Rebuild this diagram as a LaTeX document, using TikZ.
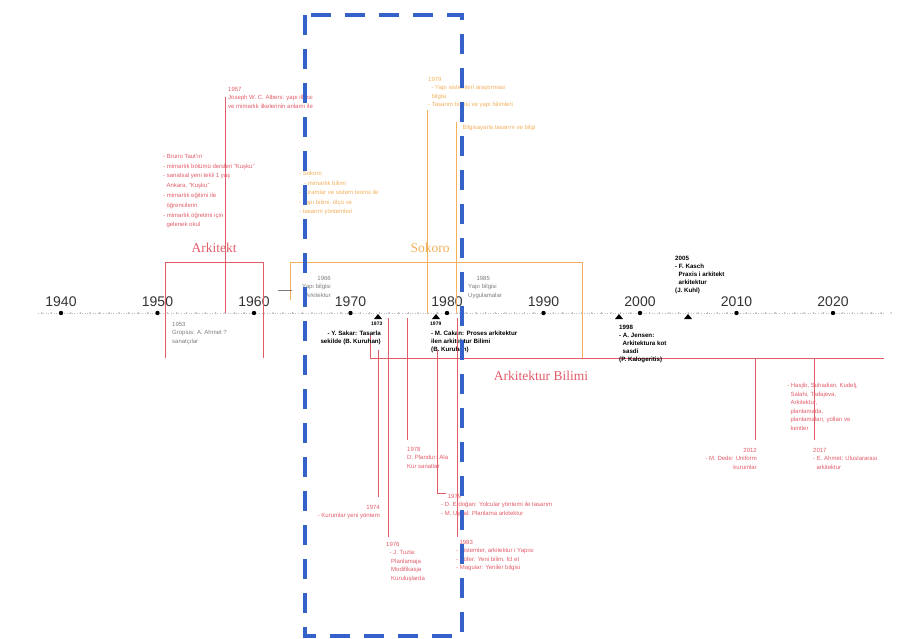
\documentclass[tikz,border=0pt]{standalone}
\usepackage{fontspec}
\setmainfont{Liberation Sans}
\newfontfamily\labelfont{Liberation Serif}
\definecolor{tlred}{RGB}{226,92,104}
\definecolor{tlorange}{RGB}{242,176,92}
\definecolor{tlgray}{RGB}{125,125,125}
\definecolor{tlblue}{RGB}{52,98,200}
\begin{document}
\begin{tikzpicture}[x=1pt,y=-1pt,
  yearlbl/.style={font=\fontsize{14}{14}\selectfont, text=black!80, anchor=base, inner sep=0pt},
  note/.style={font=\fontsize{6}{8.5}\selectfont, align=left, inner sep=0pt, anchor=north west},
  rednote/.style={note, text=tlred},
  orangenote/.style={note, text=tlorange},
  graynote/.style={note, text=tlgray},
  blacknote/.style={note, font=\fontsize{6.2}{8}\selectfont\bfseries},
  grouplbl/.style={font=\labelfont\fontsize{13.5}{13.5}\selectfont, inner sep=0pt},
  redline/.style={tlred, line width=0.8pt},
  orangeline/.style={tlorange, line width=0.8pt}]
\useasboundingbox (0,0) rectangle (899,639);

% Axis
\draw[gray!50, dotted, line width=0.6pt] (38,313) -- (884,313);
\foreach \i in {-2,...,87}
  \fill[gray!60] ({61+\i*9.65},313) circle (0.9pt);
\foreach \d [count=\k from 0] in {1940,1950,...,2020} {
  \fill ({61+\k*96.5},313) circle (2.2pt);
  \node[yearlbl] (y\d) at ({61+\k*96.5},306) {\d};
}

% Groups
\draw[redline] (165,358) -- (165,262) -- (263,262) -- (263,358);
\node[grouplbl, text=tlred] (arkitekt) at (214,248) {Arkitekt};
\draw[orangeline] (290,300) -- (290,262) -- (582,262) -- (582,358);
\node[grouplbl, text=tlorange] (sokoro) at (430,248) {Sokoro};
\draw[redline] (370,335) -- (370,358) -- (884,358);
\node[grouplbl, text=tlred] (bilim) at (541,376) {Arkitektur Bilimi};

% Notes above the axis
\node[rednote] (n1957) at (228,87) {1957\\Joseph W. C. Albers: yapı ilkesi\\ve mimarlık ilkelerinin anlamı ile};
\draw[redline] (225,97) -- (225,313);
\node[rednote, font=\fontsize{6}{9.8}\selectfont] (nlist) at (163,154) {- Bruno Taut'ın\\- mimarlık bölümü dersleri "Kuşku"\\- sanatsal yeni tekli 1 yaş\\\ \ Ankara, "Kuşku"\\- mimarlık eğitimi ile\\\ \ öğrencilerin\\- mimarlık öğretimi için\\\ \ gelenek okul};
\node[orangenote, font=\fontsize{6}{9.5}\selectfont] (nsok) at (299,171) {- Sokoro\\\ \ \ - mimarlık bilimi\\- kuramlar ve sistem teorisi ile\\- yapı bilimi, ölçü ve\\- tasarım yöntemleri};
\node[orangenote] (n1979a) at (428,77) {1979\\\ \ - Yapı sistemleri araştırması\\\ \ bilgisi\\- Tasarım bilgisi ve yapı bilimleri};
\draw[orangeline] (427,110) -- (427,313);
\node[orangenote] (n1979b) at (459,119) {- \\\ \ Bilgisayarla tasarım ve bilgi};
\draw[orangeline] (456,122) -- (456,313);
\node[graynote, align=right, anchor=north east] (n1966) at (331,276) {1966\\Yapı bilgisi\\Arkitektur};
\draw[tlgray, line width=0.5pt] (278,290) -- (292,290);
\node[graynote] (n1985) at (468,276) {\ \ \ \ \ 1985\\Yapı bilgisi\\Uygulamalar};
\node[graynote] (n1953) at (172,322) {1953\\Gropius: A. Ahmet ?\\sanatçılar};

% Milestones
\foreach \x/\nm in {378/m1, 436/m2, 619/m3, 688/m4}
  \fill (\x,314) -- ++(-4,5) -- ++(8,0) -- cycle coordinate (\nm) at (\x,319);
\node[blacknote, font=\fontsize{5}{5}\selectfont\bfseries] (b1973y) at (371,322) {1973};
\node[blacknote, align=right, anchor=north east] (b1973) at (381,331) {- Y. Sakar: Tasarla\\sekilde (B. Kuruhan)};
\node[blacknote, font=\fontsize{5}{5}\selectfont\bfseries] (b1979y) at (430,322) {1979};
\node[blacknote] (b1979) at (431,331) {- M. Cakan: Proses arkitektur\\ilen arkitektur Bilimi\\(B. Kuruhan)};
\node[blacknote] (b1998) at (619,325) {1998\\- A. Jensen:\\\ \ Arkitektura kot\\\ \ sasdi\\(P. Kalogeritis)};
\node[blacknote] (b2005) at (675,256) {2005\\- F. Kasch\\\ \ Praxis i arkitekt\\\ \ arkitektur\\(J. Kuhl)};

% Notes below the axis
\draw[redline] (378,350) -- (378,497);
\node[rednote, align=right, anchor=north east] (r1974) at (380,505) {1974\\- Kurumlar yeni yöntem};
\draw[redline] (388,318) -- (388,537);
\node[rednote] (r1976) at (386,542) {1976\\\ \ - J. Tuzla:\\\ \ \ Planlamaja\\\ \ \ Modifikasja\\\ \ \ Kuruluşlarda};
\draw[redline] (407,318) -- (407,440);
\node[rednote] (r1978) at (407,447) {1978\\D. Plandur: Ala\\Kur sanatlar};
\draw[redline] (437,350) -- (437,493) -- (446,493);
\node[rednote] (r1979) at (441,494) {\ \ \ \ 1979\\- D. Erdoğan: Yolcular yöntemi ile tasarım\\- M. Uysal: Planlama arkitektur};
\draw[redline] (457,318) -- (457,537);
\node[rednote] (r1983) at (456,540) {\ \ 1983\\- Sistemler, arkitektur i Yapısı\\- Tüfer: Yeni bilim, fcl et\\- Maguiar: Yeniler bilgisi};
\draw[redline] (755,358) -- (755,440);
\node[rednote, align=right, anchor=north east] (r2012) at (757,448) {2012\\- M. Dede: Uniform\\kurumlar};
\draw[redline] (814,358) -- (814,440);
\node[rednote] (rlist) at (787,383) {- Hasjib, Suhadian, Kudelj,\\\ \ Salahi, Tadajeva,\\\ \ Arkitektur,\\\ \ planlamada,\\\ \ planlamaları, yolları ve\\\ \ kentler};
\node[rednote] (r2017) at (813,448) {2017\\- E. Ahmet: Uluslararası\\\ \ arkitektur};

% Focus frame
\draw[tlblue, line width=3.6pt, dash pattern=on 20pt off 14pt] (305,15) rectangle (462,636);
\end{tikzpicture}
\end{document}
